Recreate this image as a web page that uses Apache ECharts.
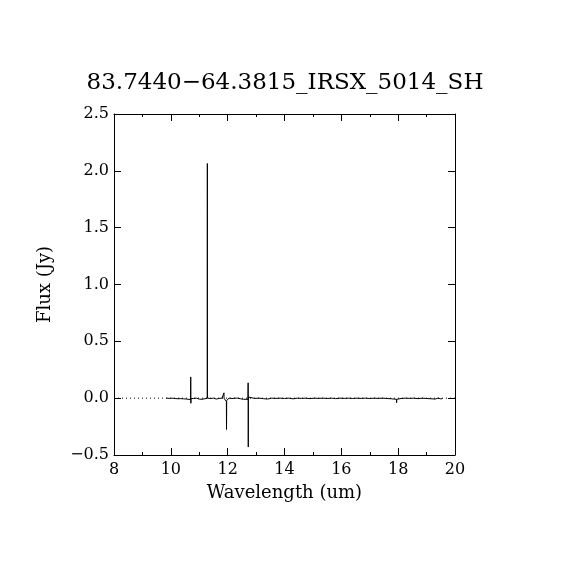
<!DOCTYPE html>
<html>
<head>
<meta charset="utf-8">
<script src="https://cdn.jsdelivr.net/npm/echarts@6/dist/echarts.min.js"></script>
<style>html,body{margin:0;padding:0;background:#fff}#c{width:570px;height:570px}</style>
</head>
<body>
<div id="c"></div>
<script>
const titleText = "83.7440\u221264.3815_IRSX_5014_SH";
const xLabel = "Wavelength (um)";
const yLabel = "Flux (Jy)";
const wavelength = [9.85,9.95,10.05,10.15,10.25,10.35,10.45,10.55,10.62,10.695,10.700,10.705,10.71,10.80,10.90,11.00,11.10,11.20,11.282,11.285,11.288,11.40,11.50,11.60,11.70,11.80,11.868,11.870,11.872,11.955,11.960,11.965,12.05,12.15,12.25,12.35,12.45,12.55,12.62,12.715,12.720,12.725,12.73,12.80,12.95,13.10,13.25,13.40,13.55,13.70,13.85,14.00,14.15,14.30,14.45,14.60,14.75,14.90,15.05,15.20,15.35,15.50,15.65,15.80,15.95,16.10,16.25,16.40,16.55,16.70,16.85,17.00,17.15,17.30,17.45,17.60,17.75,17.85,17.94,17.945,17.95,18.00,18.10,18.25,18.40,18.55,18.70,18.85,19.00,19.15,19.30,19.40,19.45,19.50,19.55,19.62];
const flux = [0.0,-0.002,0.0,-0.003,-0.005,-0.004,-0.006,-0.008,-0.010,-0.012,0.187,-0.045,-0.005,-0.002,0.0,-0.008,-0.010,-0.005,0.0,2.065,0.0,-0.003,0.0,-0.008,-0.002,0.0,-0.004,0.047,0.0,-0.03,-0.275,-0.02,0.0,-0.004,0.0,0.0,-0.005,-0.010,-0.020,-0.010,0.135,-0.43,0.010,0.0,-0.002,0.0,-0.004,-0.008,0.0,-0.002,0.0,-0.003,0.0,-0.006,0.0,-0.002,0.0,-0.004,0.0,-0.002,0.0,-0.003,0.0,-0.004,0.0,-0.002,0.0,-0.003,0.0,-0.002,0.0,-0.003,0.0,-0.002,0.0,-0.003,-0.005,-0.008,-0.01,-0.04,-0.010,0.0,-0.003,0.0,-0.002,0.0,-0.004,0.0,-0.003,-0.005,-0.008,0.0,0.010,-0.006,-0.004];
const zeroLineX = [8, 20];
const zeroLineY = [0, 0];
const xTicks = [8,10,12,14,16,18,20];
const yTicks = [-0.5,0.0,0.5,1.0,1.5,2.0,2.5];

const font = "DejaVu Serif";
const spectrum = wavelength.map((w,i)=>[w, flux[i]]);
const zero = zeroLineX.map((w,i)=>[w, zeroLineY[i]]);

const chart = echarts.init(document.getElementById('c'), null, {renderer:'canvas'});
const xBase = {
  type:'value', min:xTicks[0], max:xTicks[xTicks.length-1], interval:2,
  axisLine:{show:true, onZero:false, lineStyle:{color:'#000', width:1}},
  axisTick:{show:true, inside:true, length:7, lineStyle:{color:'#000', width:1}},
  minorTick:{show:true, splitNumber:2, length:3, lineStyle:{color:'#000', width:1}},
  splitLine:{show:false}
};
const yBase = {
  type:'value', min:yTicks[0], max:yTicks[yTicks.length-1], interval:0.5,
  axisLine:{show:true, onZero:false, lineStyle:{color:'#000', width:1}},
  axisTick:{show:true, inside:true, length:7, lineStyle:{color:'#000', width:1}},
  splitLine:{show:false}
};
chart.setOption({
  animation:false,
  backgroundColor:'#fff',
  title:{text:titleText, left:'center', top:67, textStyle:{fontFamily:font, fontSize:23, fontWeight:'normal', color:'#000'}},
  grid:{left:114, right:115, top:114, bottom:115},
  xAxis:[
    Object.assign({}, xBase, {position:'bottom', name:xLabel, nameLocation:'middle', nameGap:29,
      nameTextStyle:{fontFamily:font, fontSize:18, color:'#000'},
      axisLabel:{show:true, margin:7, fontFamily:font, fontSize:16, color:'#000',
        formatter:v=>String(v)}}),
    Object.assign({}, xBase, {position:'top', axisLabel:{show:false}})
  ],
  yAxis:[
    Object.assign({}, yBase, {position:'left', name:yLabel, nameLocation:'middle', nameGap:60,
      nameTextStyle:{fontFamily:font, fontSize:18, color:'#000'},
      axisLabel:{show:true, margin:5, fontFamily:font, fontSize:16, color:'#000',
        formatter:v=>v.toFixed(1).replace('-','\u2212')}}),
    Object.assign({}, yBase, {position:'right', axisLabel:{show:false}})
  ],
  series:[
    {type:'line', data:zero, symbol:'none', silent:true,
      lineStyle:{color:'#000', width:1, type:[1,3]}},
    {type:'line', data:spectrum, symbol:'none', silent:true,
      lineStyle:{color:'#000', width:1}}
  ]
});
</script>
</body>
</html>
